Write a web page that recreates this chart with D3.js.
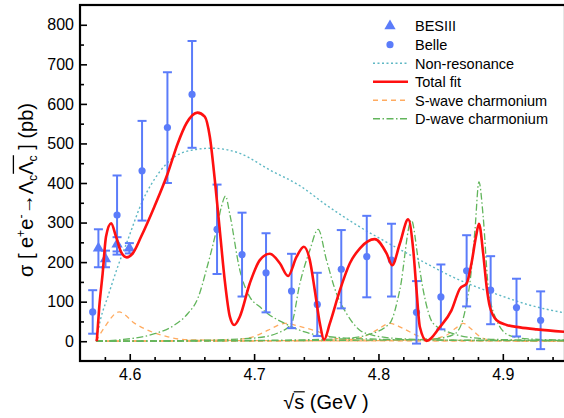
<!DOCTYPE html>
<html>
<head>
<meta charset="utf-8">
<script src="https://cdn.jsdelivr.net/npm/d3@7"></script>
<style>
  body { margin: 0; background: #fff; }
  svg { display: block; }
  text { font-family: "Liberation Sans", Arial, Helvetica, sans-serif; fill: #000; white-space: pre; }
</style>
</head>
<body>
<svg id="chart" width="564" height="418"></svg>
<script>
// ---- Measurements ----
// BESIII (triangles)
const besX   = [4.5748, 4.5805, 4.5898, 4.5997];
const besY   = [235, 208, 245, 235];
const besErr = [48, 21, 18, 13];

// Belle (circles)
const belleX   = [4.5702, 4.5898, 4.6099, 4.6303, 4.6501, 4.6702, 4.6903, 4.7096, 4.7301, 4.7508,
                  4.7701, 4.7906, 4.8105, 4.8306, 4.8502, 4.8709, 4.8902, 4.9110, 4.9304];
const belleY   = [74, 319, 431, 540, 624, 283, 219, 173, 127, 93,
                  182, 214, 205, 73, 112, 178, 129, 85, 53];
const belleErr = [55, 100, 126, 140, 135, 113, 106, 100, 94, 80,
                  99, 103, 92, 79, 82, 90, 86, 73, 73];

// ---- Fit curves (sampled) ----
const fitX = [4.5735, 4.5755, 4.5782, 4.5809, 4.5850, 4.5890, 4.5930, 4.5976, 4.6024, 4.6091,
              4.6198, 4.6305, 4.6386, 4.6456, 4.6544, 4.6603, 4.6644, 4.6684, 4.6724, 4.6764,
              4.6805, 4.6840, 4.6885, 4.6965, 4.7046, 4.7126, 4.7207, 4.7273, 4.7341, 4.7400,
              4.7448, 4.7488, 4.7529, 4.7563, 4.7609, 4.7690, 4.7770, 4.7851, 4.7970, 4.8065,
              4.8110, 4.8172, 4.8239, 4.8280, 4.8306, 4.8333, 4.8387, 4.8494, 4.8587, 4.8655,
              4.8709, 4.8748, 4.8784, 4.8808, 4.8842, 4.8870, 4.8896, 4.8950, 4.9030, 4.9138,
              4.9272, 4.9492];
const fitY = [0, 87, 171, 264, 298, 264, 226, 212, 222, 264,
              340, 424, 500, 551, 578, 568, 517, 408, 281, 154,
              62, 41, 62, 146, 205, 221, 197, 165, 213, 239,
              205, 129, 45, 4, 45, 129, 197, 235, 258, 222,
              192, 247, 308, 230, 129, 36, 1, 36, 78, 133,
              146, 197, 264, 297, 222, 137, 87, 53, 41, 35,
              30, 24];

const nonResX = [4.5729, 4.5765, 4.5823, 4.5903, 4.5984, 4.6099, 4.6240, 4.6456, 4.6657, 4.6885,
                 4.7126, 4.7368, 4.7582, 4.7850, 4.8010, 4.8334, 4.8656, 4.8977, 4.9219, 4.9492];
const nonResY = [0, 55, 112, 188, 256, 352, 428, 480, 488, 475,
                 433, 393, 344, 289, 260, 205, 154, 116, 91, 72];

// S-wave charmonium components
const s1X = [4.5729, 4.5799, 4.5914, 4.6040, 4.6174, 4.6308, 4.6442, 4.7000, 4.8000, 4.9500];
const s1Y = [0, 36, 74, 45, 24, 11, 4, 1.5, 1, 0.5];
const s2X = [4.5729, 4.6200, 4.6845, 4.7000, 4.7113, 4.7247, 4.7381, 4.7515, 4.7611, 4.7750, 4.8500, 4.9500];
const s2Y = [0, 1, 4, 12, 28, 45, 36, 24, 11, 4, 1, 0.5];
const s3X = [4.5729, 4.7000, 4.7750, 4.7878, 4.7985, 4.8092, 4.8200, 4.8306, 4.8400, 4.8700, 4.9500];
const s3Y = [0, 1, 4, 11, 28, 45, 32, 15, 5, 2, 1];
const s4X = [4.5729, 4.7800, 4.8400, 4.8546, 4.8617, 4.8682, 4.8749, 4.8815, 4.8896, 4.9500];
const s4Y = [0, 1, 5, 15, 32, 45, 30, 12, 3, 1];

// D-wave charmonium components
const d1X = [4.5729, 4.5930, 4.6100, 4.6200, 4.6360, 4.6467, 4.6547, 4.6620, 4.6697, 4.6737,
             4.6770, 4.6804, 4.6885, 4.6965, 4.7046, 4.7100, 4.7247, 4.7400, 4.7515, 4.7700,
             4.8000, 4.8500, 4.9500];
const d1Y = [0, 4, 11, 19, 41, 70, 108, 185, 281, 340,
             367, 322, 180, 112, 87, 72, 45, 24, 15, 9,
             5, 3, 2];
const d2X = [4.5729, 4.6500, 4.7000, 4.7200, 4.7301, 4.7368, 4.7448, 4.7515, 4.7582, 4.7662,
             4.7743, 4.7850, 4.7957, 4.8200, 4.8700, 4.9500];
const d2Y = [0, 2, 8, 22, 45, 146, 230, 283, 205, 121,
             70, 28, 15, 6, 2, 1];
const d3X = [4.5729, 4.7000, 4.7700, 4.7900, 4.8090, 4.8172, 4.8265, 4.8320, 4.8360, 4.8440,
             4.8600, 4.8750, 4.9000, 4.9500];
const d3Y = [0, 2, 6, 15, 45, 130, 306, 205, 129, 45,
             19, 9, 4, 2];
const d4X = [4.5729, 4.7500, 4.8300, 4.8500, 4.8620, 4.8697, 4.8740, 4.8776, 4.8808, 4.8842,
             4.8883, 4.8950, 4.9050, 4.9200, 4.9500];
const d4Y = [0, 2, 4, 8, 20, 78, 160, 281, 403, 315,
             137, 53, 15, 6, 3];

// ---- Axis ticks ----
const xTicks = [4.6, 4.7, 4.8, 4.9];
const xTickLabels = ["4.6", "4.7", "4.8", "4.9"];
const xMinorTicks = [4.58, 4.62, 4.64, 4.66, 4.68, 4.72, 4.74, 4.76, 4.78, 4.82, 4.84, 4.86, 4.88, 4.92, 4.94];
const yTicks = [0, 100, 200, 300, 400, 500, 600, 700, 800];
const yMinorTicks = [50, 150, 250, 350, 450, 550, 650, 750];

// ---- Legend ----
const legendLabels = ["BESIII", "Belle", "Non-resonance", "Total fit", "S-wave charmonium", "D-wave charmonium"];

// ---- Colours ----
const cData = "#5b7cfa";
const cNonRes = "#5fb8c4";
const cFit = "#ff1010";
const cS = "#ffab60";
const cD = "#62b55c";

const svg = d3.select("#chart");
const pLeft = 80, pRight = 565, pTop = 5, pBottom = 361;
const x = d3.scaleLinear().domain([4.56, 4.95]).range([pLeft, pRight]);
const y = d3.scaleLinear().domain([-50, 850]).range([pBottom, pTop]);

svg.append("defs").append("clipPath").attr("id", "plot-clip")
  .append("rect").attr("x", pLeft).attr("y", pTop).attr("width", pRight - pLeft).attr("height", pBottom - pTop);

const plot = svg.append("g").attr("clip-path", "url(#plot-clip)");

const zip = (xs, ys) => xs.map((v, i) => [v, ys[i]]);
const line = d3.line().x(d => x(d[0])).y(d => y(d[1])).curve(d3.curveMonotoneX);

function drawCurve(xs, ys, color, width, dash) {
  plot.append("path")
    .datum(zip(xs, ys))
    .attr("d", line)
    .attr("fill", "none")
    .attr("stroke", color)
    .attr("stroke-width", width)
    .attr("stroke-dasharray", dash)
    .attr("stroke-linejoin", "round");
}

// component curves
const sDash = "5,4";
const dDash = "7,2.5,1.5,2.5";
[[s1X, s1Y], [s2X, s2Y], [s3X, s3Y], [s4X, s4Y]].forEach(([a, b]) => drawCurve(a, b, cS, 1.3, sDash));
[[d1X, d1Y], [d2X, d2Y], [d3X, d3Y], [d4X, d4Y]].forEach(([a, b]) => drawCurve(a, b, cD, 1.3, dDash));
drawCurve(nonResX, nonResY, cNonRes, 1.4, "2,2.5");

// error bars + markers
function drawPoints(xs, ys, errs, shape) {
  const g = plot.append("g");
  xs.forEach((xv, i) => {
    const px = x(xv), lo = y(ys[i] - errs[i]), hi = y(ys[i] + errs[i]);
    g.append("line").attr("x1", px).attr("x2", px).attr("y1", lo).attr("y2", hi)
      .attr("stroke", cData).attr("stroke-width", 2);
    [lo, hi].forEach(yy => g.append("line")
      .attr("x1", px - 4.5).attr("x2", px + 4.5).attr("y1", yy).attr("y2", yy)
      .attr("stroke", cData).attr("stroke-width", 2));
  });
  xs.forEach((xv, i) => {
    if (shape === "circle") {
      g.append("circle").attr("cx", x(xv)).attr("cy", y(ys[i])).attr("r", 3.6).attr("fill", cData);
    } else {
      g.append("path").attr("d", d3.symbol(d3.symbolTriangle, 55)())
        .attr("transform", `translate(${x(xv)},${y(ys[i])})`).attr("fill", cData);
    }
  });
}
drawPoints(belleX, belleY, belleErr, "circle");
drawPoints(besX, besY, besErr, "triangle");

// total fit
drawCurve(fitX, fitY, cFit, 2.6, null);

// ---- Axes ----
const axisFont = 16;
const xAxis = svg.append("g").attr("transform", `translate(0,${pBottom})`)
  .call(d3.axisBottom(x).tickValues(xTicks).tickFormat((d, i) => xTickLabels[i]).tickSizeInner(-7).tickSizeOuter(0).tickPadding(8));
const xAxisMinor = svg.append("g").attr("transform", `translate(0,${pBottom})`)
  .call(d3.axisBottom(x).tickValues(xMinorTicks).tickFormat("").tickSizeInner(-4).tickSizeOuter(0));
const yAxis = svg.append("g").attr("transform", `translate(${pLeft},0)`)
  .call(d3.axisLeft(y).tickValues(yTicks).tickFormat(d3.format("d")).tickSizeInner(-7).tickSizeOuter(0).tickPadding(6));
const yAxisMinor = svg.append("g").attr("transform", `translate(${pLeft},0)`)
  .call(d3.axisLeft(y).tickValues(yMinorTicks).tickFormat("").tickSizeInner(-4).tickSizeOuter(0));

[xAxis, xAxisMinor, yAxis, yAxisMinor].forEach(g => {
  g.select(".domain").remove();
  g.selectAll(".tick line").attr("stroke", "#000").attr("stroke-width", 1.6);
  g.selectAll("text").attr("font-size", axisFont)
    .style("font-family", '"Liberation Sans", Arial, sans-serif').attr("fill", "#000");
});

// frame
svg.append("rect").attr("x", pLeft).attr("y", pTop).attr("width", pRight - pLeft).attr("height", pBottom - pTop)
  .attr("fill", "none").attr("stroke", "#000").attr("stroke-width", 2.2);

// ---- Rich-text helper for titles ----
function richText(g, parts, fs) {
  let cx = 0;
  parts.forEach(p => {
    const size = p.small ? fs * 0.62 : fs;
    const t = g.append("text").attr("x", cx).attr("y", (p.dy || 0) * fs)
      .attr("font-size", size).attr("xml:space", "preserve").text(p.t);
    p.x0 = cx;
    p.w = t.node().getComputedTextLength();
    cx += p.w;
  });
  return cx;
}

// y title
const titleFs = 20;
const yTitle = svg.append("g").attr("transform", "translate(33,190) rotate(-90)");
const yInner = yTitle.append("g");
const yParts = [
  { t: "σ [ e" },
  { t: "+", small: true, dy: -0.42 },
  { t: "e" },
  { t: "-", small: true, dy: -0.42 },
  { t: "→Λ" },
  { t: "c", small: true, dy: 0.22 },
  { t: "Λ", bar: true },
  { t: "c", small: true, dy: 0.22, bar: true },
  { t: " ] (pb)" }
];
const yLen = richText(yInner, yParts, titleFs);
yInner.attr("transform", `translate(${-yLen / 2},0)`);
const barParts = yParts.filter(p => p.bar);
yInner.append("line")
  .attr("x1", barParts[0].x0 + 1).attr("x2", barParts[barParts.length - 1].x0 + barParts[barParts.length - 1].w)
  .attr("y1", -0.98 * titleFs).attr("y2", -0.98 * titleFs)
  .attr("stroke", "#000").attr("stroke-width", 1.3);

// x title
const xTitle = svg.append("g").attr("transform", "translate(326,409)");
const xInner = xTitle.append("g");
const xParts = [{ t: "√" }, { t: "s" }, { t: " (GeV )" }];
const xLen = richText(xInner, xParts, titleFs);
xInner.attr("transform", `translate(${-xLen / 2},0)`);
xInner.append("line")
  .attr("x1", xParts[1].x0 - 0.5).attr("x2", xParts[1].x0 + xParts[1].w + 0.5)
  .attr("y1", -0.86 * titleFs).attr("y2", -0.86 * titleFs)
  .attr("stroke", "#000").attr("stroke-width", 1.2);

// ---- Legend ----
const legend = svg.append("g");
const legRowY = [26, 44.7, 63.3, 81.7, 100.3, 118.8];
const legFs = 14.5;
legendLabels.forEach((lab, i) => {
  const yy = legRowY[i];
  if (i === 0) {
    legend.append("path").attr("d", d3.symbol(d3.symbolTriangle, 55)())
      .attr("transform", `translate(390,${yy})`).attr("fill", cData);
  } else if (i === 1) {
    legend.append("circle").attr("cx", 390).attr("cy", yy).attr("r", 3.6).attr("fill", cData);
  } else {
    const style = [
      [cNonRes, 1.6, "2,2.5"],
      [cFit, 2.6, null],
      [cS, 1.6, sDash],
      [cD, 1.6, dDash]
    ][i - 2];
    legend.append("line").attr("x1", 373).attr("x2", 408).attr("y1", yy).attr("y2", yy)
      .attr("stroke", style[0]).attr("stroke-width", style[1]).attr("stroke-dasharray", style[2]);
  }
  legend.append("text").attr("x", 415).attr("y", yy).attr("dy", "0.36em")
    .attr("font-size", legFs).text(lab);
});
</script>
</body>
</html>
